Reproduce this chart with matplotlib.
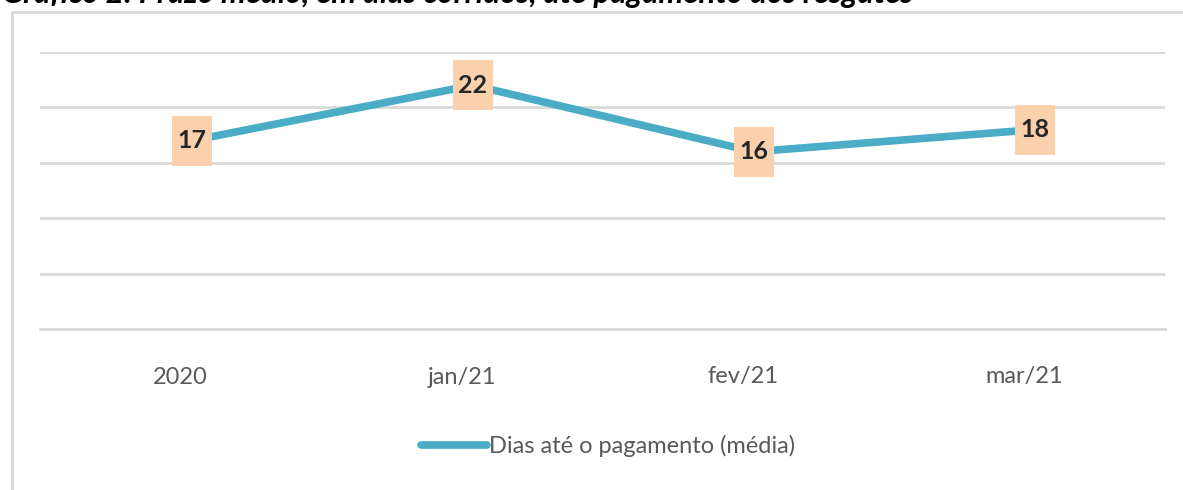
import matplotlib
matplotlib.use("Agg")
import matplotlib.pyplot as plt
from matplotlib.patches import Rectangle
from matplotlib.transforms import offset_copy

# data
meses = ["2020", "jan/21", "fev/21", "mar/21"]
dias = [17, 22, 16, 18]
serie = "Dias até o pagamento (média)"
titulo = "Gráfico 2: Prazo médio, em dias corridos, até pagamento dos resgates"

plt.rcParams['font.family'] = ['Lato', 'DejaVu Sans']

W, H = 1183, 490
fig = plt.figure(figsize=(W / 100, H / 100), dpi=100)

# outer chart frame (cut at right and bottom)
fig.patches.append(Rectangle((12 / W, -0.1), 1.2, 1 - 12 / H + 0.1,
                             transform=fig.transFigure, fill=False,
                             edgecolor="#d9d9d9", linewidth=2))

# title cut off at the top of the picture
fig.text(2 / W, 1 - 2.5 / H, titulo, fontsize=22.5, fontweight='bold',
         fontstyle='italic', va='baseline', ha='left', color='black')

ax = fig.add_axes([40 / W, 1 - 329 / H, 1125 / W, 277 / H])
x = range(len(meses))
# points sit a little right of the category centre in the original
shift = offset_copy(ax.transData, fig=fig, x=11, y=0, units='dots')
line, = ax.plot(x, dias, color="#4bacc6", linewidth=5.5, solid_capstyle='round',
                label=serie, zorder=3, transform=shift)

box = [(-0.4, -0.5), (0.4, -0.5), (0.4, 0.5), (-0.4, 0.5), (-0.4, -0.5)]
ax.plot(x, dias, linestyle='none', marker=box, markersize=36,
        markerfacecolor="#fbd0ad", markeredgewidth=0, zorder=4, transform=shift)
for xi, v in zip(x, dias):
    ax.text(xi, v, str(v), ha='center', va='center', fontsize=18,
            fontweight='bold', color="#262626", zorder=5, transform=shift)

ax.set_xlim(-0.5, len(meses) - 0.5)
ax.set_ylim(0, 25)
ax.set_yticks([0, 5, 10, 15, 20, 25])
ax.set_yticklabels([])
ax.set_xticks(list(x))
ax.set_xticklabels(meses, fontsize=17, color="#595959")
ax.tick_params(axis='both', length=0)
ax.tick_params(axis='x', pad=27)
ax.grid(axis='y', color="#d9d9d9", linewidth=2)
for s in ['top', 'left', 'right']:
    ax.spines[s].set_visible(False)
ax.spines['bottom'].set_color("#d9d9d9")
ax.spines['bottom'].set_linewidth(2)

fig.legend(handles=[line], loc='center', bbox_to_anchor=(608 / W, 1 - 446 / H),
           frameon=False, fontsize=17, handlelength=2.8, handletextpad=0.1,
           labelcolor="#595959")

fig.savefig("out.png", dpi=100)
